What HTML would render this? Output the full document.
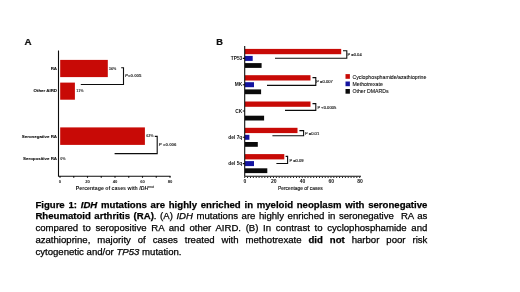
<!DOCTYPE html>
<html><head><meta charset="utf-8">
<style>
html,body{margin:0;padding:0;background:#fff;}
body{width:520px;height:292px;overflow:hidden;position:relative;font-family:"Liberation Sans",sans-serif;}
svg{position:absolute;left:0;top:0;filter:blur(0.3px);}
svg text{font-family:"Liberation Sans",sans-serif;fill:#111;}
.b{font-weight:bold;}
.l{font-size:4.4px;font-weight:bold;text-anchor:end;stroke:#111;stroke-width:0.1px;}
.t{font-size:4.2px;font-weight:bold;text-anchor:middle;}
.v{font-size:3.7px;font-weight:bold;fill:#222;}
.p{font-size:4.4px;font-weight:bold;}
.q{font-size:4.1px;stroke:#111;stroke-width:0.12px;}
.r{font-size:4.85px;font-weight:bold;text-anchor:end;}
.g{font-size:5.2px;stroke:#111;stroke-width:0.1px;}
.ln{fill:none;stroke:#0c0c0c;stroke-width:1.1;}
#cap{position:absolute;left:35.4px;top:198.5px;width:392px;font-size:9.6px;line-height:11.75px;color:#000;-webkit-text-stroke:0.25px #000;}
#cap div{text-align:justify;text-align-last:justify;white-space:nowrap;}
#cap div.last{text-align-last:left;}
</style></head><body>
<svg width="520" height="292" viewBox="0 0 520 292">
<!-- Panel A -->
<text class="b" transform="translate(24.5,44.7) scale(0.98,0.98)" font-size="10" stroke="#111" stroke-width="0.25">A</text>
<rect x="60.2" y="59.9" width="47.6" height="17.2" fill="#c80a06"/>
<rect x="60.2" y="82.6" width="14.7" height="17.1" fill="#c80a06"/>
<rect x="60.2" y="127.4" width="84.7" height="17.5" fill="#c80a06"/>
<path class="ln" d="M58.5 50.5V176.3H170.5"/>
<path class="ln" stroke-width="0.8" d="M60 176v1.7M73.75 176v1.7M87.5 176v1.7M101.25 176v1.7M115 176v1.7M128.75 176v1.7M142.5 176v1.7M156.25 176v1.7M170 176v1.7"/>
<text class="l" x="57" y="69.8">RA</text>
<text class="l" x="57" y="92.4">Other AIRD</text>
<text class="l" x="57" y="137.9">Seronegative RA</text>
<text class="l" x="57" y="160.3">Seropositive RA</text>
<text class="v" x="108.8" y="69.5">34%</text>
<text class="v" x="76.3" y="92">11%</text>
<text class="v" x="146.2" y="137.4">62%</text>
<text class="v" x="60.3" y="160">0%</text>
<path class="ln" d="M121.2 67.8H123.5V84.5H80.8"/>
<path class="ln" d="M154.8 136.4H157.2V153.6H114.6"/>
<text class="p" x="125" y="77.4"><tspan font-style="italic">P</tspan>=0.005</text>
<text class="p" x="158.8" y="146.3"><tspan font-style="italic">P</tspan> =0.006</text>
<text class="t" x="60" y="183.1">0</text>
<text class="t" x="87.5" y="183.1">20</text>
<text class="t" x="115" y="183.1">40</text>
<text class="t" x="142.5" y="183.1">60</text>
<text class="t" x="170" y="183.1">80</text>
<text class="b" x="75.8" y="190" font-size="5.2">Percentage of cases with <tspan font-style="italic">IDH</tspan><tspan font-size="3.2" dy="-2">mut</tspan></text>
<!-- Panel B -->
<text class="b" transform="translate(216.2,44.7) scale(0.92,0.98)" font-size="10" stroke="#111" stroke-width="0.25">B</text>
<g fill="#c80a06">
<rect x="245.0" y="48.9" width="96.2" height="5.3"/>
<rect x="245.0" y="75.2" width="65.5" height="5.3"/>
<rect x="245.0" y="101.5" width="65.5" height="5.3"/>
<rect x="245.0" y="127.8" width="52.5" height="5.3"/>
<rect x="245.0" y="154.1" width="39.3" height="5.3"/>
</g>
<g fill="#1414a0">
<rect x="245.0" y="55.9" width="7.7" height="5"/>
<rect x="245.0" y="82.2" width="9.0" height="5"/>
<rect x="245.0" y="134.8" width="4.4" height="5"/>
<rect x="245.0" y="161.1" width="9.0" height="5"/>
</g>
<g fill="#0a0a0a">
<rect x="245.0" y="63.1" width="16.6" height="4.8"/>
<rect x="245.0" y="89.4" width="16.1" height="4.8"/>
<rect x="245.0" y="115.7" width="19.1" height="4.8"/>
<rect x="245.0" y="142.0" width="12.8" height="4.8"/>
<rect x="245.0" y="168.3" width="22.3" height="4.8"/>
</g>
<path class="ln" d="M244.7 46V176.3H361"/>
<path class="ln" stroke-width="0.8" d="M242.8 58.4H245M242.8 84.7H245M242.8 111H245M242.8 137.3H245M242.8 163.6H245"/>
<path class="ln" stroke-width="1.5" stroke-dasharray="0.9 1.975" d="M244.25 177.4H361"/>
<text class="r" x="242.3" y="60">TP53</text>
<text class="r" x="242.3" y="86.3">MK</text>
<text class="r" x="242.3" y="112.6">CK</text>
<text class="r" x="242.3" y="138.9">del 7q</text>
<text class="r" x="242.3" y="165.2">del 5q</text>
<path class="ln" d="M343 50.8H346.8V58.3H275"/>
<path class="ln" d="M312.5 77.6H315.8V85.4H267"/>
<path class="ln" d="M312.5 103.6H315.8V110.4H285"/>
<path class="ln" d="M299.4 130.6H303.6V135.8H272.4"/>
<path class="ln" d="M285.6 156.4H287.6V163.5H276.4"/>
<text class="q" x="347.5" y="56">P =0.04</text>
<text class="q" x="316.3" y="83.2">P =0.007</text>
<text class="q" x="317.5" y="109">P &lt;0.0005</text>
<text class="q" x="305" y="134.6">P =0.01</text>
<text class="q" x="289.4" y="161.5">P =0.09</text>
<text class="t" style="font-size:5px" x="245" y="182.9">0</text>
<text class="t" style="font-size:5px" x="273.75" y="182.9">20</text>
<text class="t" style="font-size:5px" x="302.5" y="182.9">40</text>
<text class="t" style="font-size:5px" x="331.25" y="182.9">60</text>
<text class="t" style="font-size:5px" x="360" y="182.9">80</text>
<text x="278" y="189.5" font-size="4.9" stroke="#111" stroke-width="0.12">Percentage of cases</text>
<rect x="345.5" y="74.1" width="4.4" height="4.7" fill="#c80a06"/>
<rect x="345.5" y="81.5" width="4.4" height="4.7" fill="#1414a0"/>
<rect x="345.5" y="89" width="4.4" height="4.7" fill="#0a0a0a"/>
<text class="g" x="352.5" y="78.6">Cyclophosphamide/azathioprine</text>
<text class="g" x="352.5" y="85.6">Methotrexate</text>
<text class="g" x="352.5" y="93.2">Other DMARDs</text>
</svg>
<div id="cap">
<div><b>Figure 1: <i>IDH</i> mutations are highly enriched in myeloid neoplasm with seronegative</b></div>
<div><b>Rheumatoid arthritis (RA)</b>. (A) <i>IDH</i> mutations are highly enriched in seronegative &nbsp;RA as</div>
<div>compared to seropositive RA and other AIRD. (B) In contrast to cyclophosphamide and</div>
<div>azathioprine, majority of cases treated with methotrexate <b>did not</b> harbor poor risk</div>
<div class="last">cytogenetic and/or <i>TP53</i> mutation.</div>
</div>
</body></html>
